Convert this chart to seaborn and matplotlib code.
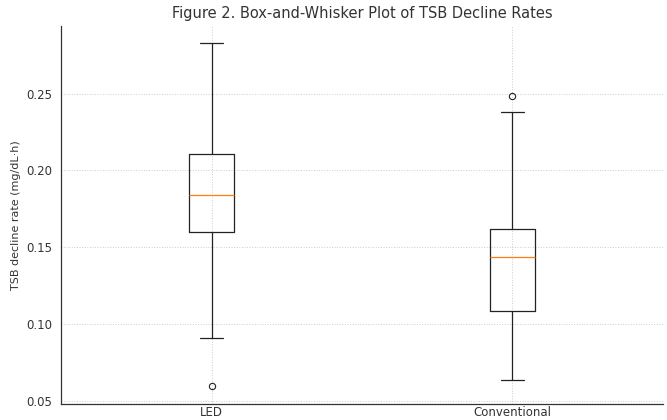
"""Box-and-whisker plot of TSB decline rates (LED vs conventional)."""

import numpy as np
import pandas as pd
import matplotlib
matplotlib.use("Agg")
import matplotlib.pyplot as plt
import seaborn as sns

groups = ["LED", "Conventional"]
led_rates = [0.0594, 0.0912, 0.1602, 0.1720, 0.1838, 0.1950, 0.2104, 0.2450, 0.2827]
conv_rates = [0.0636, 0.0900, 0.1082, 0.1280, 0.1435, 0.1530, 0.1617, 0.2381, 0.2487]

title = "Figure 2. Box-and-Whisker Plot of TSB Decline Rates"
y_label = "TSB decline rate (mg/dL·h)"
y_ticks = [0.05, 0.10, 0.15, 0.20, 0.25]

df = pd.DataFrame({
    "group": [groups[0]] * len(led_rates) + [groups[1]] * len(conv_rates),
    "rate": led_rates + conv_rates,
})

sns.set_style("white")
plt.rcParams["font.family"] = ["DejaVu Sans"]

fig, ax = plt.subplots(figsize=(6.67, 4.2), dpi=100)
fig.subplots_adjust(left=0.092, right=0.9934, top=0.938, bottom=0.039)

line_kw = dict(color="#222222", linewidth=0.9)
sns.boxplot(
    data=df, x="group", y="rate", order=groups, ax=ax,
    width=0.15, whis=1.5, fill=False, color="#222222", linewidth=0.9,
    boxprops=line_kw, whiskerprops=line_kw, capprops=line_kw,
    medianprops=dict(color="#ff7f0e", linewidth=0.9),
    flierprops=dict(marker="o", markersize=4.5, markerfacecolor="none",
                    markeredgecolor="#222222", markeredgewidth=0.8),
)

ax.set_xlim(-0.5, 1.5)
ax.set_ylim(0.0482, 0.2939)
ax.set_yticks(y_ticks)
ax.set_yticklabels([f"{t:.2f}" for t in y_ticks])
ax.grid(True, linestyle=":", color="#cccccc", linewidth=0.7)
ax.set_axisbelow(True)
for side in ["top", "right"]:
    ax.spines[side].set_visible(False)
for side in ["left", "bottom"]:
    ax.spines[side].set_color("#333333")
    ax.spines[side].set_linewidth(0.9)

ax.tick_params(axis="y", labelsize=8.5, colors="#333333", length=3, width=0.6)
ax.tick_params(axis="x", labelsize=8.5, colors="#333333", direction="in",
               length=2, width=0.6, pad=2)
ax.set_xlabel("")
ax.set_ylabel(y_label, fontsize=8, color="#333333")
ax.set_title(title, fontsize=10.5, color="#333333", pad=6)

fig.savefig("out.png", dpi=100)
